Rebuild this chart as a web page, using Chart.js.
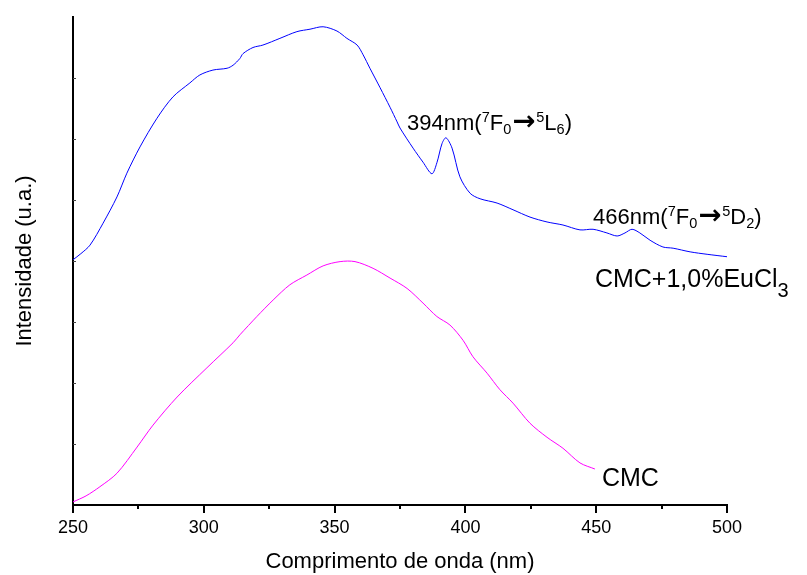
<!DOCTYPE html>
<html>
<head>
<meta charset="utf-8">
<script src="https://cdn.jsdelivr.net/npm/chart.js@4"></script>
<style>
  html, body { margin: 0; padding: 0; background: #fff; }
  #wrap { width: 807px; height: 575px; }
</style>
</head>
<body>
<div id="wrap"><canvas id="espectro"></canvas></div>
<script>
// espectros de excitação (nm, intensidade)
const ondaEu = [250.0, 253.0, 256.5, 261.5, 266.8, 270.6, 275.6, 282.1, 288.2, 294.7, 298.5, 303.5, 308.9, 311.2,
  313.8, 315.0, 318.8, 322.6, 329.1, 335.6, 340.6, 345.6, 350.9, 354.7, 358.6, 360.9, 363.5, 367.4, 371.2, 373.9,
  375.0, 380.0, 383.8, 387.2, 389.1, 391.1, 392.6, 394.9, 397.9, 401.8, 405.6, 412.1, 418.2, 424.7, 431.2, 437.3,
  443.8, 448.8, 454.1, 458.0, 461.0, 463.7, 466.7, 470.6, 475.5, 479.4, 485.9, 492.4, 500.0];
const intEu = [4.02, 4.12, 4.26, 4.62, 5.05, 5.44, 5.87, 6.34, 6.69, 6.92, 7.05, 7.13, 7.16, 7.21,
  7.32, 7.40, 7.50, 7.54, 7.65, 7.76, 7.80, 7.84, 7.77, 7.65, 7.54, 7.38, 7.16, 6.84, 6.52, 6.28,
  6.18, 5.85, 5.62, 5.43, 5.61, 5.93, 6.02, 5.85, 5.38, 5.11, 5.02, 4.95, 4.84, 4.72, 4.64, 4.59,
  4.51, 4.52, 4.46, 4.41, 4.46, 4.52, 4.46, 4.34, 4.23, 4.21, 4.15, 4.11, 4.07];

const ondaCMC = [250.0, 255.0, 260.3, 266.8, 274.5, 280.6, 289.8, 301.2, 311.2, 313.8, 320.3, 326.5, 332.9, 339.4,
  345.6, 352.1, 357.8, 364.7, 371.2, 377.7, 383.8, 389.1, 394.1, 399.1, 402.9, 408.3, 413.2, 418.2, 424.7,
  431.2, 437.3, 443.8, 449.5];
const intCMC = [0.05, 0.15, 0.30, 0.52, 0.95, 1.31, 1.77, 2.25, 2.66, 2.79, 3.09, 3.36, 3.61, 3.77,
  3.92, 3.99, 3.99, 3.88, 3.72, 3.55, 3.31, 3.09, 2.95, 2.70, 2.43, 2.16, 1.89, 1.67, 1.34,
  1.11, 0.93, 0.69, 0.59];

const xMin = 250, xMax = 500, xMinor = 25, xMajor = 50;
const yMin = 0, yMax = 8, yStep = 1;

// rótulos no gráfico: [texto em partes, x (nm), y (intensidade), tamanho]
const rotulos = [
  [[['394nm('], ['7', 'sup'], ['F'], ['0', 'sub'], ['→', 'seta'], ['5', 'sup'], ['L'], ['6', 'sub'], [')']], 377.7, 6.15, 22],
  [[['466nm('], ['7', 'sup'], ['F'], ['0', 'sub'], ['→', 'seta'], ['5', 'sup'], ['D'], ['2', 'sub'], [')']], 448.8, 4.60, 22],
  [[['CMC+1,0%EuCl'], ['3', 'low']], 449.5, 3.57, 25],
  [[['CMC']], 452.2, 0.31, 25]
];

const FONTE = '"Liberation Sans", Arial, sans-serif';

function pares(xs, ys) {
  return xs.map((x, i) => ({ x: x, y: ys[i] }));
}

// marcas dos eixos: x para fora (maiores a cada 50), y para dentro
const marcasEixos = {
  id: 'marcasEixos',
  afterDraw(chart) {
    const ctx = chart.ctx;
    const xs = chart.scales.x, ys = chart.scales.y;
    const area = chart.chartArea;
    ctx.save();
    ctx.strokeStyle = '#000';
    ctx.lineWidth = 2;
    xs.ticks.forEach(t => {
      const px = Math.round(xs.getPixelForValue(t.value));
      const len = (t.value % xMajor === 0) ? 8 : 4;
      ctx.beginPath();
      ctx.moveTo(px, area.bottom);
      ctx.lineTo(px, area.bottom + len);
      ctx.stroke();
    });
    ctx.strokeStyle = '#444';
    ctx.lineWidth = 1;
    ys.ticks.forEach(t => {
      if (t.value <= yMin || t.value >= yMax) return;
      const py = Math.round(ys.getPixelForValue(t.value)) + 0.5;
      ctx.beginPath();
      ctx.moveTo(area.left, py);
      ctx.lineTo(area.left + 3, py);
      ctx.stroke();
    });
    ctx.restore();
  }
};

// textos com sobrescrito e subscrito
const textosRicos = {
  id: 'textosRicos',
  afterDraw(chart) {
    const ctx = chart.ctx;
    const xs = chart.scales.x, ys = chart.scales.y;
    ctx.save();
    ctx.fillStyle = '#000';
    ctx.textBaseline = 'alphabetic';
    ctx.textAlign = 'left';
    rotulos.forEach(([partes, vx, vy, tam]) => {
      let x = xs.getPixelForValue(vx);
      const y = ys.getPixelForValue(vy);
      partes.forEach(([txt, tipo]) => {
        let fonte = tam + 'px ' + FONTE, dy = 0, folga = 0;
        if (tipo === 'sup') { fonte = (tam * 0.66) + 'px ' + FONTE; dy = -tam * 0.36; }
        else if (tipo === 'sub') { fonte = (tam * 0.66) + 'px ' + FONTE; dy = tam * 0.17; }
        else if (tipo === 'low') { fonte = (tam * 0.8) + 'px ' + FONTE; dy = tam * 0.4; }
        else if (tipo === 'seta') { fonte = 'bold ' + (tam * 1.25) + 'px "DejaVu Sans", sans-serif'; dy = -tam * 0.0; folga = 1; }
        ctx.font = fonte;
        ctx.fillText(txt, x + folga, y + dy);
        x += ctx.measureText(txt).width + folga * 2;
      });
    });
    ctx.restore();
  }
};

const ctx = document.getElementById('espectro');

new Chart(ctx, {
  type: 'line',
  data: {
    datasets: [{
      label: 'CMC+1,0%EuCl3',
      data: pares(ondaEu, intEu),
      borderColor: '#0000ff',
      borderWidth: 1,
      pointRadius: 0,
      tension: 0.3,
      fill: false
    }, {
      label: 'CMC',
      data: pares(ondaCMC, intCMC),
      borderColor: '#ff00ff',
      borderWidth: 1,
      pointRadius: 0,
      tension: 0.3,
      fill: false
    }]
  },
  options: {
    responsive: true,
    maintainAspectRatio: false,
    animation: false,
    layout: { padding: { top: 17, right: 80, left: 0, bottom: 0 } },
    plugins: {
      legend: { display: false },
      tooltip: { enabled: false }
    },
    scales: {
      x: {
        type: 'linear',
        min: xMin,
        max: xMax,
        afterFit(scale) { scale.height = 70; },
        grid: { display: true, drawOnChartArea: false, drawTicks: false },
        border: { display: true, color: '#000', width: 2 },
        ticks: {
          stepSize: xMinor,
          padding: 12,
          color: '#000',
          font: { family: FONTE, size: 18 },
          maxRotation: 0,
          autoSkip: false,
          callback: v => (v % xMajor === 0 ? String(v) : '')
        },
        title: {
          display: true,
          text: 'Comprimento de onda (nm)',
          color: '#000',
          font: { family: FONTE, size: 22 },
          padding: 0
        }
      },
      y: {
        type: 'linear',
        min: yMin,
        max: yMax,
        afterFit(scale) { scale.width = 73; },
        grid: { display: true, drawOnChartArea: false, drawTicks: false },
        border: { display: true, color: '#000', width: 2 },
        ticks: { stepSize: yStep, display: false },
        title: {
          display: true,
          text: 'Intensidade (u.a.)',
          color: '#000',
          font: { family: FONTE, size: 22 },
          padding: { top: 12, bottom: 0 }
        }
      }
    }
  },
  plugins: [marcasEixos, textosRicos]
});
</script>
</body>
</html>
